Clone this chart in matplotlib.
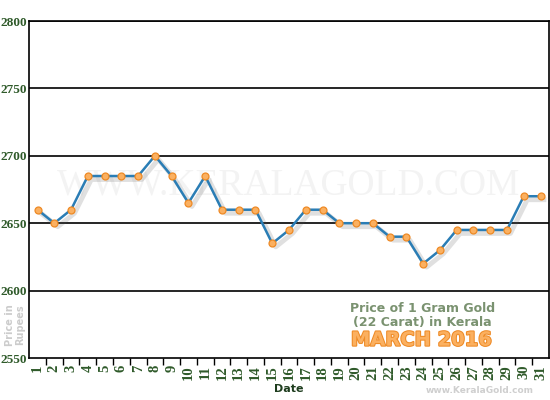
import matplotlib
matplotlib.use("Agg")
import matplotlib.pyplot as plt
import matplotlib.patheffects as pe
from matplotlib.ticker import FixedLocator

days = list(range(1, 32))
prices = [2660, 2650, 2660, 2685, 2685, 2685, 2685, 2700, 2685, 2665,
          2685, 2660, 2660, 2660, 2635, 2645, 2660, 2660, 2650, 2650,
          2650, 2640, 2640, 2620, 2630, 2645, 2645, 2645, 2645, 2670,
          2670]
y_ticks = [2550, 2600, 2650, 2700, 2750, 2800]

green = "#2f5a2a"

fig = plt.figure(figsize=(5.5, 4), dpi=100)
ax = fig.add_axes([0.053, 0.105, 0.945, 0.8425])

ax.set_xlim(0.5, 31.5)
ax.set_ylim(2550, 2800)

for y in y_ticks[1:]:
    ax.axhline(y, color="black", lw=1.2, zorder=1)

# watermark
ax.text(16, 2678, "WWW.KERALAGOLD.COM", ha="center", va="center",
        fontsize=27, family="Liberation Serif", color="#f3f3f3", zorder=0)

# soft shadow under the line
ax.plot(days, prices, color="#2a7db5", lw=2, zorder=2, alpha=0.0,
        path_effects=[pe.SimpleLineShadow(offset=(2.5, -2.5), shadow_color="#555555",
                                          alpha=0.18, linewidth=3.5)])
ax.plot(days, prices, color="#2a7db5", lw=1.8, zorder=3,
        marker="o", markersize=5, markerfacecolor="#fbb060",
        markeredgecolor="#ee8a25", markeredgewidth=0.9)

ax.set_yticks(y_ticks)
ax.set_xticks(days)
ax.xaxis.set_minor_locator(FixedLocator([d + 0.5 for d in days[:-1]]))
ax.tick_params(axis="x", which="major", length=0, pad=5, rotation=90,
               labelsize=10.5, labelcolor=green)
ax.tick_params(axis="x", which="minor", length=5, width=1, direction="out")
ax.tick_params(axis="y", length=0, pad=1.5, labelsize=9.5, labelcolor=green)
for lab in ax.get_xticklabels() + ax.get_yticklabels():
    lab.set_family("Liberation Serif")
    lab.set_fontweight("bold")

for s in ax.spines.values():
    s.set_linewidth(1.2)

ax.set_xlabel("Date", fontsize=8, fontweight="bold", color="#1e3d1e", labelpad=3)

fig.text(15 / 550, 0.1875, "Price in\nRupees", rotation=90,
         ha="center", va="center", fontsize=7, fontweight="bold", color="#cccccc",
         linespacing=1.0)

ax.text(0.756, 0.126, "Price of 1 Gram Gold\n(22 Carat) in Kerala", transform=ax.transAxes,
        ha="center", va="center", fontsize=9, fontweight="bold", color="#7a9270",
        linespacing=1.05)
ax.text(0.755, 0.053, "MARCH 2016", transform=ax.transAxes, ha="center", va="center",
        fontsize=14, fontweight="bold", color="#fbb060",
        path_effects=[pe.withStroke(linewidth=1.5, foreground="#ee8a25")])

fig.text(0.97, 0.012, "www.KeralaGold.com", ha="right", va="bottom",
         fontsize=6.5, fontweight="bold", color="#cfcfcf")

fig.savefig("out.png", dpi=100)
